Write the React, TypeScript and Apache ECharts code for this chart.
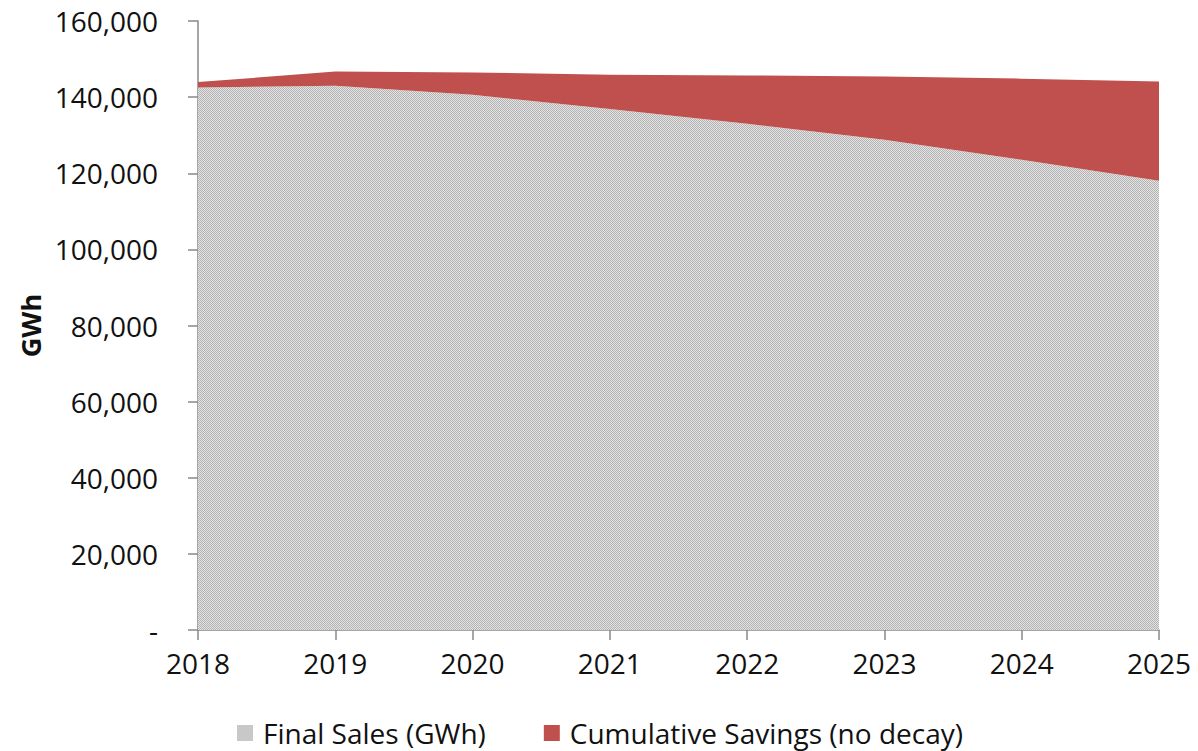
import React, { useEffect, useRef } from "react";
import * as echarts from "echarts";

const years = ["2018", "2019", "2020", "2021", "2022", "2023", "2024", "2025"];
const finalSales = [142500, 143000, 140600, 136900, 133000, 128800, 123550, 118000];
const cumulativeSavings = [1450, 3700, 5900, 8950, 12700, 16600, 21300, 26100];
const seriesNames = ["Final Sales (GWh)", "Cumulative Savings (no decay)"];

function makePattern(): string {
  const c = document.createElement("canvas");
  c.width = 4;
  c.height = 4;
  const ctx = c.getContext("2d")!;
  ctx.fillStyle = "#e4e4e4";
  ctx.fillRect(0, 0, 4, 4);
  ctx.fillStyle = "#b2b2b2";
  for (let y = 0; y < 4; y++) {
    for (let x = 0; x < 4; x++) {
      if ((x + y) % 2 === 0) ctx.fillRect(x, y, 1, 1);
    }
  }
  return c.toDataURL();
}

export default function App() {
  const ref = useRef<HTMLDivElement>(null);
  useEffect(() => {
    if (!ref.current) return;
    const chart = echarts.init(ref.current, undefined, { renderer: "svg" });
    const pattern = { image: makePattern(), repeat: "repeat" } as any;
    const font = "'Open Sans', 'Noto Sans', sans-serif";
    const textColor = "#111";
    chart.setOption({
      animation: false,
      textStyle: { fontFamily: font },
      grid: { left: 198, right: 39, top: 21, bottom: 121 },
      legend: {
        top: 719,
        left: 237,
        padding: 0,
        itemGap: 58,
        itemWidth: 16,
        itemHeight: 16,
        icon: "rect",
        textStyle: { fontSize: 28, lineHeight: 28, color: textColor, fontFamily: font, padding: [0, 0, 0, 5] },
        data: [
          { name: seriesNames[0], itemStyle: { color: "#c8c8c8" } },
          { name: seriesNames[1], itemStyle: { color: "#C0504D" } },
        ],
      },
      xAxis: {
        type: "category",
        data: years,
        boundaryGap: false,
        axisLine: { lineStyle: { color: "#888", width: 1.5 } },
        axisTick: { show: true, length: 10, lineStyle: { color: "#888", width: 1.5 } },
        axisLabel: { fontSize: 28, color: textColor, margin: 19, fontFamily: font },
      },
      yAxis: {
        type: "value",
        min: 0,
        max: 160000,
        interval: 20000,
        name: "GWh",
        nameLocation: "middle",
        nameGap: 154,
        nameTextStyle: { fontSize: 27, fontWeight: "bold", color: textColor, fontFamily: font },
        splitLine: { show: false },
        axisLine: { show: true, lineStyle: { color: "#888", width: 1.5 } },
        axisTick: { show: true, length: 10, lineStyle: { color: "#888", width: 1.5 } },
        axisLabel: {
          fontSize: 28,
          color: textColor,
          margin: 40,
          fontFamily: font,
          formatter: (v: number) => (v === 0 ? "-" : v.toLocaleString("en-US")),
        },
      },
      series: [
        {
          name: seriesNames[0],
          type: "line",
          stack: "total",
          data: finalSales,
          showSymbol: false,
          symbol: "none",
          lineStyle: { width: 0 },
          itemStyle: { color: "#c8c8c8" },
          areaStyle: { color: pattern, opacity: 1 },
        },
        {
          name: seriesNames[1],
          type: "line",
          stack: "total",
          data: cumulativeSavings,
          showSymbol: false,
          symbol: "none",
          lineStyle: { width: 0 },
          itemStyle: { color: "#C0504D" },
          areaStyle: { color: "#C0504D", opacity: 1 },
        },
      ],
    });
    return () => chart.dispose();
  }, []);
  return (
    <div
      ref={ref}
      style={{ position: "absolute", left: 0, top: 0, width: 1198, height: 751 }}
    />
  );
}
